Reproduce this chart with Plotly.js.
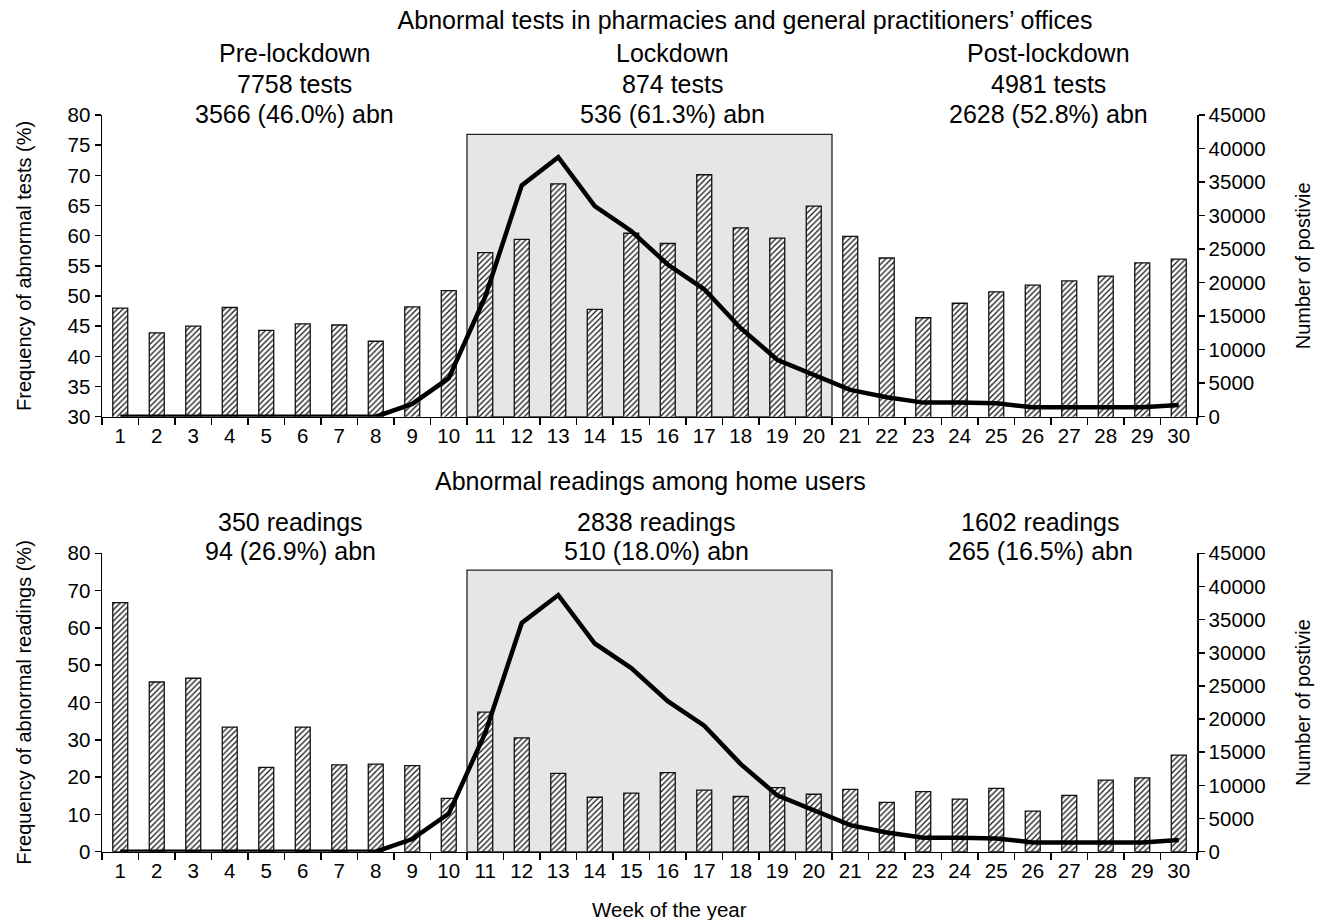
<!DOCTYPE html>
<html>
<head>
<meta charset="utf-8">
<script src="https://cdn.plot.ly/plotly-3.0.1.min.js"></script>
<style>html,body{margin:0;padding:0;background:#fff;}#chart{width:1328px;height:920px;}</style>
</head>
<body>
<div id="chart"></div>
<script>
// ---- data ----
const weeks = [1,2,3,4,5,6,7,8,9,10,11,12,13,14,15,16,17,18,19,20,21,22,23,24,25,26,27,28,29,30];
const pharmacyAbnormalPct = [48.0, 43.9, 45.0, 48.1, 44.3, 45.4, 45.2, 42.5, 48.2, 50.9,
                             57.2, 59.4, 68.6, 47.8, 60.4, 58.7, 70.1, 61.3, 59.6, 64.9,
                             59.9, 56.3, 46.4, 48.8, 50.7, 51.8, 52.5, 53.3, 55.5, 56.1];
const homeAbnormalPct = [66.8, 45.5, 46.5, 33.4, 22.6, 33.4, 23.3, 23.5, 23.1, 14.3,
                         37.4, 30.5, 21.0, 14.6, 15.7, 21.2, 16.5, 14.8, 17.2, 15.4,
                         16.7, 13.2, 16.1, 14.1, 17.0, 10.9, 15.1, 19.2, 19.8, 25.9];
const positives = [0, 0, 0, 0, 0, 0, 0, 0, 1900, 5750,
                   17900, 34500, 38700, 31400, 27700, 22700, 19000, 13200, 8500, 6200,
                   4000, 2900, 2100, 2100, 2000, 1400, 1350, 1450, 1400, 1750];
const periodNames = ['Pre-lockdown', 'Lockdown', 'Post-lockdown'];
const pharmacyTests = [7758, 874, 4981];
const pharmacyAbn = [3566, 536, 2628];
const pharmacyAbnPct = ['46.0', '61.3', '52.8'];
const homeReadings = [350, 2838, 1602];
const homeAbn = [94, 510, 265];
const homeAbnPct = ['26.9', '18.0', '16.5'];
const lockdownStart = 11, lockdownEnd = 20;

// ---- layout helpers ----
const W = 1328, H = 920;
const FONT = 'Liberation Sans, Arial, Helvetica, sans-serif';
const px2x = p => p / W;
const px2y = p => 1 - p / H;
const cats = weeks.map(String);

const barStyle = {
  color: 'white',
  line: {color: '#111', width: 1.3},
  pattern: {shape: '/', fgcolor: '#1a1a1a', bgcolor: 'white', size: 4, solidity: 0.33}
};
const lineStyle = {color: '#000', width: 4.5};

const traces = [
  {type: 'bar', x: cats, y: pharmacyAbnormalPct, xaxis: 'x', yaxis: 'y', width: 0.41, marker: barStyle, showlegend: false},
  {type: 'scatter', mode: 'lines', x: cats, y: positives, xaxis: 'x', yaxis: 'y2', line: lineStyle, showlegend: false},
  {type: 'bar', x: cats, y: homeAbnormalPct, xaxis: 'x2', yaxis: 'y3', width: 0.41, marker: barStyle, showlegend: false},
  {type: 'scatter', mode: 'lines', x: cats, y: positives, xaxis: 'x2', yaxis: 'y4', line: lineStyle, showlegend: false}
];

const xDomain = [px2x(102), px2x(1197)];
const topDom = [px2y(416.7), px2y(115)];
const botDom = [px2y(851.7), px2y(553.3)];
const tickFont = {family: FONT, size: 20.5, color: '#000'};
const titleFont = {family: FONT, size: 20, color: '#000'};
const textSize = 25;

function xAx(anchor) {
  return {
    type: 'category', domain: xDomain, anchor: anchor, range: [-0.5, 29.5],
    tickson: 'boundaries', ticks: 'outside', ticklen: 7, tickwidth: 1.5, tickcolor: '#000',
    showline: true, linecolor: '#000', linewidth: 1.5, showgrid: false, zeroline: false,
    tickfont: tickFont, fixedrange: true
  };
}
function yAx(domain, range, dtick, title, side, overlay, anchor) {
  const a = {
    domain: domain, range: range, dtick: dtick, tick0: 0, anchor: anchor,
    tickformat: 'd',
    ticks: 'outside', ticklen: 6, tickwidth: 1.5, tickcolor: '#000',
    showline: true, linecolor: '#000', linewidth: 1.5, showgrid: false, zeroline: false,
    tickfont: tickFont, side: side, fixedrange: true,
    title: {text: title, font: titleFont, standoff: side === 'right' ? 31 : 30}
  };
  if (overlay) a.overlaying = overlay;
  return a;
}

const annotations = [];
function addText(text, xp, yp, size) {
  annotations.push({text: text, xref: 'paper', yref: 'paper', x: px2x(xp), y: px2y(yp),
    xanchor: 'center', yanchor: 'middle', showarrow: false,
    font: {family: FONT, size: size, color: '#000'}});
}
const topX = [294, 672, 1048];
const botX = [290, 656, 1040];
for (let i = 0; i < 3; i++) {
  addText(periodNames[i], topX[i], 53, textSize);
  addText(pharmacyTests[i] + ' tests', topX[i], 84, textSize);
  addText(pharmacyAbn[i] + ' (' + pharmacyAbnPct[i] + '%) abn', topX[i], 114, textSize);
  addText(homeReadings[i] + ' readings', botX[i], 522, textSize);
  addText(homeAbn[i] + ' (' + homeAbnPct[i] + '%) abn', botX[i], 551, textSize);
}
addText('Abnormal readings among home users', 650, 481, textSize);
addText('Week of the year', 670, 909, 20.5);

const shapes = [
  {type: 'rect', xref: 'x', yref: 'y', x0: lockdownStart - 1.5, x1: lockdownEnd - 0.5, y0: 30, y1: 76.8,
   fillcolor: '#e6e6e6', line: {color: '#222', width: 1.3}, layer: 'below'},
  {type: 'rect', xref: 'x2', yref: 'y3', x0: lockdownStart - 1.5, x1: lockdownEnd - 0.5, y0: 0, y1: 75.5,
   fillcolor: '#e6e6e6', line: {color: '#222', width: 1.3}, layer: 'below'}
];

const layout = {
  width: W, height: H,
  margin: {l: 0, r: 0, t: 0, b: 0},
  paper_bgcolor: 'white', plot_bgcolor: 'rgba(0,0,0,0)',
  font: {family: FONT, color: '#000'},
  title: {text: 'Abnormal tests in pharmacies and general practitioners\u2019 offices',
          font: {family: FONT, size: textSize, color: '#000'},
          x: px2x(745), xanchor: 'center', y: px2y(20), yanchor: 'middle', xref: 'paper', yref: 'paper'},
  xaxis: xAx('y'),
  xaxis2: xAx('y3'),
  yaxis: yAx(topDom, [30, 80], 5, 'Frequency of abnormal tests (%)', 'left', null, 'x'),
  yaxis2: yAx(topDom, [0, 45000], 5000, 'Number of postivie', 'right', 'y', 'x'),
  yaxis3: yAx(botDom, [0, 80], 10, 'Frequency of abnormal readings (%)', 'left', null, 'x2'),
  yaxis4: yAx(botDom, [0, 45000], 5000, 'Number of postivie', 'right', 'y3', 'x2'),
  shapes: shapes,
  annotations: annotations,
  showlegend: false
};

Plotly.newPlot('chart', traces, layout, {displayModeBar: false, staticPlot: true});
</script>
</body>
</html>
